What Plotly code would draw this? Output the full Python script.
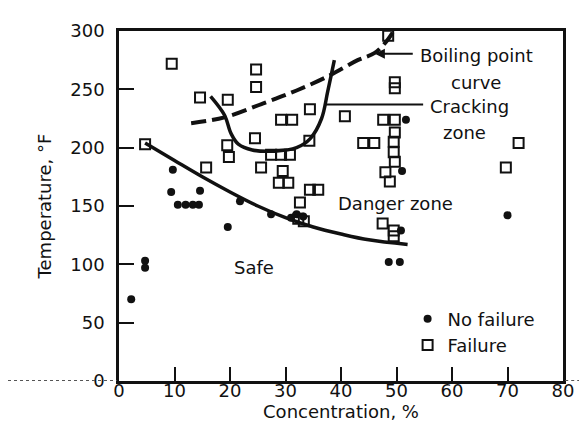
import plotly.graph_objects as go

# ---- data ----
x_ticks = [0, 10, 20, 30, 40, 50, 60, 70, 80]
y_ticks = [0, 50, 100, 150, 200, 250, 300]

fail_x = [9.5, 4.7, 14.6, 19.6, 24.7, 24.7, 19.5, 19.8, 24.5, 29.2, 31.2, 34.3, 34.4,
          27.4, 29.2, 30.8, 25.6, 29.5, 28.8, 30.5, 34.4, 35.9, 32.6, 15.7, 40.7,
          47.6, 49.7, 48.5, 49.7, 49.7, 49.7, 49.5, 49.5, 49.7, 44.0, 46.0, 48.0,
          48.8, 47.5, 49.5, 49.5, 72.0, 69.7, 32.3, 33.3]
fail_t = [272, 203, 243, 241, 267, 252, 202, 192, 208, 224, 224, 206, 233,
          194, 194, 194, 183, 180, 170, 170, 164, 164, 153, 183, 227,
          224, 224, 296, 256, 251, 213, 205, 196, 188, 204, 204, 179,
          171, 135, 129, 124, 204, 183, 139, 137]

nofail_x = [2.2, 4.7, 4.7, 9.7, 9.4, 14.6, 10.6, 12.0, 13.3, 14.4, 19.6, 21.8, 27.4,
            31.0, 32.0, 33.2, 51.7, 51.0, 50.8, 48.6, 50.6, 70.0]
nofail_t = [70, 103, 97, 181, 162, 163, 151, 151, 151, 151, 132, 154, 143,
            140, 143, 141, 224, 180, 129, 102, 102, 142]

safe_x = [4.7, 10, 15, 20, 25, 30, 35, 40, 45, 52]
safe_t = [204, 189, 175, 162, 150, 140, 132, 126, 121, 117]

boil_x = [13, 19, 26, 32, 38, 43, 46, 48, 49.5]
boil_t = [221, 226, 238, 249, 262, 275, 281, 290, 300]

crack_x = [16.5, 19, 20.2, 21.5, 24, 28, 32, 34.5, 36.5, 37.6, 38.8]
crack_t = [244, 228, 212, 203, 198, 197, 200, 208, 225, 248, 275]

crack_lead_x = [37.2, 54.8]
crack_lead_t = [237, 237]

FONT = "DejaVu Sans"
INK = "#111111"
FS = 18

fig = go.Figure()

fig.add_trace(go.Scatter(x=safe_x, y=safe_t, mode="lines", line=dict(color=INK, width=3.5, shape="spline"),
                         showlegend=False, hoverinfo="skip"))
fig.add_trace(go.Scatter(x=boil_x, y=boil_t, mode="lines",
                         line=dict(color=INK, width=4, dash="15px,6px", shape="spline"),
                         showlegend=False, hoverinfo="skip"))
fig.add_trace(go.Scatter(x=crack_x, y=crack_t, mode="lines", line=dict(color=INK, width=3.5, shape="spline"),
                         showlegend=False, hoverinfo="skip"))
fig.add_trace(go.Scatter(x=crack_lead_x, y=crack_lead_t, mode="lines", line=dict(color=INK, width=2),
                         showlegend=False, hoverinfo="skip"))

fig.add_trace(go.Scatter(x=nofail_x, y=nofail_t, mode="markers", name="No failure",
                         marker=dict(symbol="circle", size=8, color=INK)))
fig.add_trace(go.Scatter(x=fail_x, y=fail_t, mode="markers", name="Failure",
                         marker=dict(symbol="square-open", size=10, color=INK, line=dict(width=2, color=INK))))

ann = dict(font=dict(family=FONT, size=FS, color=INK), showarrow=False, xref="x", yref="y")
fig.add_annotation(x=53.9, y=279, text="Boiling point", xanchor="left", **ann)
fig.add_annotation(x=64.3, y=256, text="curve", xanchor="center", **ann)
fig.add_annotation(x=55.6, y=235, text="Cracking", xanchor="left", **ann)
fig.add_annotation(x=62.3, y=213, text="zone", xanchor="center", **ann)
fig.add_annotation(x=49.9, y=152, text="Danger zone", xanchor="center", **ann)
fig.add_annotation(x=24.3, y=97, text="Safe", xanchor="center", **ann)

# leader for boiling point label
fig.add_annotation(x=46.1, y=280.5, ax=53.2, ay=280.5, axref="x", ayref="y", xref="x", yref="y",
                   text="", showarrow=True, arrowhead=2, arrowsize=1, arrowwidth=2, arrowcolor=INK)

# scan-like dotted extension of the baseline
fig.add_shape(type="line", xref="paper", yref="y", x0=-0.25, x1=-0.005, y0=0, y1=0,
              line=dict(color="#555555", width=2, dash="dot"))
fig.add_shape(type="line", xref="paper", yref="y", x0=1.005, x1=1.07, y0=0, y1=0,
              line=dict(color="#555555", width=2, dash="dot"))

axis_common = dict(showgrid=False, zeroline=False, showline=True, linecolor=INK, linewidth=2.5,
                   mirror=True, ticks="inside", tickcolor=INK, tickwidth=2,
                   tickfont=dict(family=FONT, size=FS, color=INK))

fig.update_xaxes(range=[0, 80], tickvals=x_ticks, ticklen=14, ticklabelstandoff=-8,
                 title=dict(text="Concentration, %", font=dict(family=FONT, size=FS, color=INK), standoff=0),
                 **axis_common)
fig.update_yaxes(range=[0, 300], tickvals=y_ticks, ticklen=15, ticklabelstandoff=8,
                 title=dict(text="Temperature, °F", font=dict(family=FONT, size=FS, color=INK), standoff=14),
                 **axis_common)

fig.update_layout(
    width=587, height=430, autosize=False,
    margin=dict(l=111, r=32, t=19, b=57),
    paper_bgcolor="white", plot_bgcolor="white",
    font=dict(family=FONT, size=FS, color=INK),
    legend=dict(x=0.65, y=0.14, xanchor="left", yanchor="middle", bgcolor="rgba(0,0,0,0)",
                font=dict(family=FONT, size=FS, color=INK), tracegroupgap=0, itemwidth=30),
)

fig.write_html("out.html")
